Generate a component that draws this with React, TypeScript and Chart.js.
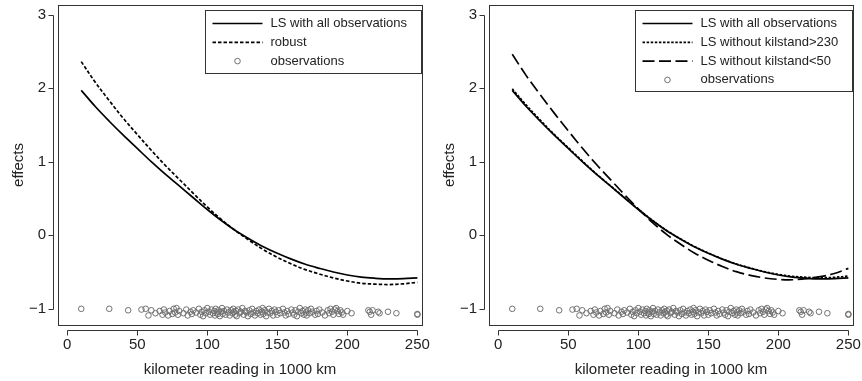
import React, { useEffect, useRef } from "react";
import { Chart, registerables } from "chart.js";

Chart.register(...registerables);

// ---------- data ----------
const kmGrid = [10, 20, 30, 40, 50, 60, 70, 80, 90, 100, 110, 120, 130, 140, 150, 160, 170, 180, 190, 200, 210, 220, 230, 240, 250];

const lsAll = [1.97, 1.75, 1.55, 1.36, 1.18, 1.0, 0.83, 0.67, 0.51, 0.35, 0.2, 0.065, -0.05, -0.155, -0.245, -0.325, -0.395, -0.45, -0.5, -0.54, -0.57, -0.585, -0.593, -0.59, -0.58];

const robust = [2.36, 2.08, 1.83, 1.59, 1.37, 1.155, 0.95, 0.76, 0.57, 0.385, 0.215, 0.065, -0.07, -0.195, -0.3, -0.39, -0.467, -0.527, -0.58, -0.622, -0.652, -0.665, -0.67, -0.66, -0.64];

const lsWithout230 = [1.99, 1.77, 1.565, 1.37, 1.19, 1.01, 0.835, 0.675, 0.515, 0.355, 0.205, 0.068, -0.048, -0.152, -0.242, -0.322, -0.39, -0.445, -0.495, -0.532, -0.558, -0.572, -0.577, -0.572, -0.555];

const lsWithout50 = [2.46, 2.17, 1.91, 1.66, 1.42, 1.185, 0.965, 0.76, 0.555, 0.36, 0.175, 0.015, -0.12, -0.24, -0.34, -0.425, -0.495, -0.545, -0.58, -0.6, -0.605, -0.59, -0.563, -0.52, -0.45];

const obsKm = [
  10, 30, 43.5, 53, 56, 58, 60, 63, 66, 68, 69, 70,
  72, 73, 75, 76, 77, 78, 79, 80, 83, 85, 86, 88,
  89, 90, 92, 94, 95, 96, 97, 98, 99, 100, 101, 102,
  103, 104, 105, 105.5, 106, 107, 107.5, 108, 109, 110, 110.5, 111,
  112, 113, 114, 115, 116, 117, 118, 118.5, 119, 120, 120.5, 121,
  122, 123, 124, 125, 126, 127, 128, 129, 130, 131, 132, 133,
  134, 135, 136, 137, 138, 139, 139.5, 140, 141, 142, 143, 144,
  145, 146, 147, 148, 149, 150, 151, 152, 154, 155, 156, 157,
  158, 160, 161, 162, 163, 164, 165, 166, 167, 168, 169, 170,
  170.5, 171, 172, 173, 174, 175, 177, 178, 179, 180, 182, 184,
  186, 187, 188, 189, 190, 191, 192, 193, 194, 195, 196, 197,
  200, 203, 215, 216, 217, 218, 222, 223, 229, 235, 250, 250,
];

const obsEffect = [
  -1.0, -1.0, -1.02, -1.01, -1.0, -1.09, -1.02, -1.06, -1.03, -1.08, -1.01, -1.05,
  -1.09, -1.03, -1.07, -1.0, -1.05, -0.99, -1.08, -1.03, -1.06, -1.01, -1.09, -1.04,
  -1.07, -1.02, -1.05, -1.0, -1.08, -1.04, -1.1, -1.02, -1.06, -0.99, -1.04, -1.08,
  -1.01, -1.06, -1.03, -1.09, -1.0, -1.05, -1.07, -1.02, -1.1, -1.04, -0.99, -1.07,
  -1.03, -1.08, -1.01, -1.05, -1.09, -1.02, -1.06, -1.0, -1.04, -1.08, -1.03, -1.1,
  -1.01, -1.06, -1.04, -0.99, -1.08, -1.03, -1.05, -1.1, -1.02, -1.07, -1.0, -1.05,
  -1.09, -1.03, -1.06, -1.01, -1.08, -1.04, -0.99, -1.07, -1.02, -1.1, -1.05, -1.0,
  -1.06, -1.03, -1.09, -1.01, -1.04, -1.08, -1.02, -1.06, -1.0, -1.05, -1.09, -1.03,
  -1.07, -1.01, -1.05, -1.08, -1.02, -1.1, -1.04, -0.99, -1.06, -1.03, -1.08, -1.01,
  -1.05, -1.09, -1.02, -1.06, -1.0, -1.04, -1.08, -1.03, -1.07, -1.01, -1.05, -1.09,
  -1.02, -1.06, -1.0, -1.04, -1.08, -1.01, -0.99, -1.03, -1.07, -1.02, -1.05, -1.08,
  -1.03, -1.06, -1.02, -1.04, -1.08, -1.02, -1.04, -1.06, -1.04, -1.06, -1.07, -1.08,
];

const xTicks = [0, 50, 100, 150, 200, 250];
const yTicks = [-1, 0, 1, 2, 3];

const xTitle = "kilometer reading in 1000 km";
const yTitle = "effects";

const leftLabels = ["LS with all observations", "robust", "observations"];
const rightLabels = ["LS with all observations", "LS without kilstand>230", "LS without kilstand<50", "observations"];

// ---------- styling ----------
const FONT = "'Liberation Sans', Arial, Helvetica, sans-serif";
const INK = "#222";
const FRAME = "#333";
const OBS_COLOR = "#707070";

type Series = { label: string; values?: number[]; dash?: number[]; obs?: boolean };

const framePlugin = {
  id: "rframe",
  afterDraw(chart: any) {
    const { ctx, chartArea: a, scales } = chart;
    const xs = scales.x;
    const ys = scales.y;
    ctx.save();
    ctx.strokeStyle = FRAME;
    ctx.lineWidth = 1;
    // box
    ctx.strokeRect(Math.round(a.left) + 0.5, Math.round(a.top) + 0.5, Math.round(a.right - a.left), Math.round(a.bottom - a.top));
    // x axis (offset below)
    const ya = Math.round(a.bottom) + 5.5;
    ctx.beginPath();
    ctx.moveTo(Math.round(xs.getPixelForValue(xTicks[0])) + 0.5, ya);
    ctx.lineTo(Math.round(xs.getPixelForValue(xTicks[xTicks.length - 1])) + 0.5, ya);
    xTicks.forEach((v) => {
      const px = Math.round(xs.getPixelForValue(v)) + 0.5;
      ctx.moveTo(px, ya);
      ctx.lineTo(px, ya + 5);
    });
    // y axis (offset left)
    const xa = Math.round(a.left) - 4.5;
    ctx.moveTo(xa, Math.round(ys.getPixelForValue(yTicks[0])) + 0.5);
    ctx.lineTo(xa, Math.round(ys.getPixelForValue(yTicks[yTicks.length - 1])) + 0.5);
    yTicks.forEach((v) => {
      const py = Math.round(ys.getPixelForValue(v)) + 0.5;
      ctx.moveTo(xa, py);
      ctx.lineTo(xa - 5, py);
    });
    ctx.stroke();

    // legend box (top right, inside plot)
    const ds = chart.data.datasets;
    ctx.font = "13px " + FONT;
    let maxW = 0;
    ds.forEach((d: any) => { maxW = Math.max(maxW, ctx.measureText(d.label).width); });
    const padL = 7, sample = 50, gap = 8, padR = 14, rowH = 18.8, padT = 13, padB = 12;
    const w = padL + sample + gap + maxW + padR;
    const h = padT + rowH * (ds.length - 1) + padB;
    const bx = Math.round(a.right - 1 - w) + 0.5;
    const by = Math.round(a.top + 5) + 0.5;
    ctx.fillStyle = "#fff";
    ctx.fillRect(bx, by, w, h);
    ctx.strokeStyle = FRAME;
    ctx.lineWidth = 1;
    ctx.strokeRect(bx, by, Math.round(w), Math.round(h));
    ds.forEach((d: any, i: number) => {
      const cy = by + padT + rowH * i;
      const sx = bx + padL;
      if (d.showLine === false) {
        ctx.beginPath();
        ctx.strokeStyle = OBS_COLOR;
        ctx.lineWidth = 1;
        ctx.setLineDash([]);
        ctx.arc(sx + sample / 2, cy, 2.8, 0, Math.PI * 2);
        ctx.stroke();
      } else {
        ctx.beginPath();
        ctx.strokeStyle = d.borderColor;
        ctx.lineWidth = d.borderWidth;
        ctx.setLineDash(d.borderDash || []);
        ctx.moveTo(sx, cy);
        ctx.lineTo(sx + sample, cy);
        ctx.stroke();
        ctx.setLineDash([]);
      }
      ctx.fillStyle = INK;
      ctx.textBaseline = "middle";
      ctx.textAlign = "left";
      ctx.fillText(d.label, sx + sample + gap, cy);
    });
    ctx.restore();
  },
};

function Panel({ series }: { series: Series[] }) {
  const ref = useRef<HTMLCanvasElement | null>(null);
  useEffect(() => {
    if (!ref.current) return;
    const datasets: any[] = series.map((s) => {
      if (s.obs) {
        return {
          label: s.label,
          data: obsKm.map((k, i) => ({ x: k, y: obsEffect[i] })),
          showLine: false,
          pointStyle: "circle",
          pointRadius: 2.8,
          pointBorderWidth: 1,
          pointBorderColor: OBS_COLOR,
          pointBackgroundColor: "rgba(0,0,0,0)",
          borderColor: OBS_COLOR,
        };
      }
      return {
        label: s.label,
        data: kmGrid.map((k, i) => ({ x: k, y: (s.values as number[])[i] })),
        borderColor: "#000",
        borderWidth: 1.7,
        borderDash: s.dash || [],
        pointRadius: 0,
        tension: 0.35,
        fill: false,
      };
    });
    const ordered = datasets.map((d, i) => ({ ...d, order: d.showLine === false ? 10 : i }));
    const chart = new Chart(ref.current, {
      type: "line",
      data: { datasets: ordered },
      plugins: [framePlugin],
      options: {
        animation: false,
        responsive: false,
        layout: { padding: { left: 0, top: 5, right: 9, bottom: 0 } },
        plugins: { legend: { display: false }, tooltip: { enabled: false } },
        scales: {
          x: {
            type: "linear",
            min: -6.6,
            max: 253.3,
            grid: { display: false, drawTicks: false },
            border: { display: false },
            afterBuildTicks: (s: any) => { s.ticks = xTicks.map((v) => ({ value: v })); },
            afterFit: (s: any) => { s.height = 56; s.paddingLeft = 0; s.paddingRight = 0; },
            ticks: { font: { family: FONT, size: 15 }, color: INK, padding: 11, maxRotation: 0 },
            title: { display: true, text: xTitle, font: { family: FONT, size: 15 }, color: INK, padding: { top: 2, bottom: 2 } },
          },
          y: {
            type: "linear",
            min: -1.22,
            max: 3.13,
            grid: { display: false, drawTicks: false },
            border: { display: false },
            afterBuildTicks: (s: any) => { s.ticks = yTicks.map((v) => ({ value: v })); },
            afterFit: (s: any) => { s.width = 58; s.paddingTop = 0; s.paddingBottom = 0; },
            ticks: { font: { family: FONT, size: 15 }, color: INK, padding: 12, callback: (v: any) => (v < 0 ? "\u2212" + Math.abs(v) : String(v)) },
            title: { display: true, text: yTitle, font: { family: FONT, size: 15 }, color: INK, padding: { top: 10, bottom: 10 } },
          },
        },
      } as any,
    });
    return () => chart.destroy();
  }, [series]);
  return <canvas ref={ref} width={431} height={381} style={{ display: "block", width: 431, height: 381 }} />;
}

const leftSeries: Series[] = [
  { label: leftLabels[0], values: lsAll },
  { label: leftLabels[1], values: robust, dash: [3.5, 2] },
  { label: leftLabels[2], obs: true },
];

const rightSeries: Series[] = [
  { label: rightLabels[0], values: lsAll },
  { label: rightLabels[1], values: lsWithout230, dash: [2.5, 1.6] },
  { label: rightLabels[2], values: lsWithout50, dash: [12, 4.5] },
  { label: rightLabels[3], obs: true },
];

export default function App() {
  return (
    <div style={{ position: "fixed", left: 0, top: 0, width: 862, height: 381, display: "flex", background: "#fff" }}>
      <Panel series={leftSeries} />
      <Panel series={rightSeries} />
    </div>
  );
}
